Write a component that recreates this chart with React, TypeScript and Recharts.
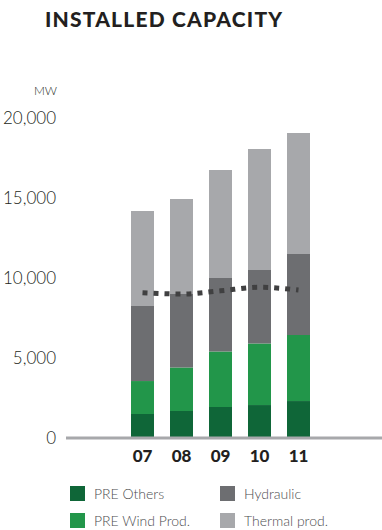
import {
  ComposedChart,
  Bar,
  Line,
  XAxis,
  YAxis,
} from "recharts";

const years = ["07", "08", "09", "10", "11"];
const preOthers = [1500, 1690, 1940, 2060, 2310];
const preWind = [2060, 2710, 3460, 3840, 4130];
const hydraulic = [4690, 4600, 4600, 4600, 5060];
const thermal = [5940, 5940, 6750, 7560, 7560];
const average = [9080, 9000, 9200, 9420, 9250];
const yTicks = [0, 5000, 10000, 15000, 20000];

const COLORS = {
  others: "#0f6638",
  wind: "#22964a",
  hydraulic: "#6d6e71",
  thermal: "#a7a8ab",
};

const data = years.map((year, i) => ({
  year,
  others: preOthers[i],
  wind: preWind[i],
  hydraulic: hydraulic[i],
  thermal: thermal[i],
  average: average[i],
}));

const legendItems = [
  { label: "PRE Others", color: COLORS.others },
  { label: "Hydraulic", color: COLORS.hydraulic },
  { label: "PRE Wind Prod.", color: COLORS.wind },
  { label: "Thermal prod.", color: COLORS.thermal },
];

const FONT = "Lato, 'Open Sans', sans-serif";

function formatTick(value: number) {
  return value.toLocaleString("en-US");
}

function LegendBlock() {
  return (
    <div
      style={{
        position: "absolute",
        left: 70,
        top: 486,
        display: "grid",
        gridTemplateColumns: "150px 150px",
        rowGap: 12,
        fontFamily: FONT,
        fontWeight: 300,
        fontSize: 14,
        color: "#4d4d4f",
      }}
    >
      {legendItems.map((item) => (
        <div key={item.label} style={{ display: "flex", alignItems: "center" }}>
          <span
            style={{
              width: 15,
              height: 15,
              backgroundColor: item.color,
              marginRight: 9,
              display: "inline-block",
            }}
          />
          <span style={{ lineHeight: "15px" }}>{item.label}</span>
        </div>
      ))}
    </div>
  );
}

export default function App() {
  return (
    <div
      style={{
        position: "absolute",
        left: 0,
        top: 0,
        width: 382,
        height: 530,
        background: "#fff",
        overflow: "hidden",
      }}
    >
      <div
        style={{
          position: "absolute",
          left: 45,
          top: 6,
          fontFamily: FONT,
          fontWeight: 900,
          fontSize: 21,
          letterSpacing: 1.2,
          color: "#231f20",
          whiteSpace: "nowrap",
        }}
      >
        INSTALLED CAPACITY
      </div>
      <div
        style={{
          position: "absolute",
          right: 382 - 57,
          top: 83,
          fontFamily: FONT,
          fontWeight: 300,
          fontSize: 12,
          color: "#231f20",
        }}
      >
        MW
      </div>
      <ComposedChart
        width={382}
        height={470}
        data={data}
        margin={{ top: 118, right: 0, left: 0, bottom: 0 }}
      >
        <XAxis
          dataKey="year"
          padding={{ left: 57, right: 64 }}
          axisLine={{ stroke: "#a7a8ab", strokeWidth: 3 }}
          tickLine={false}
          tickSize={0}
          tickMargin={12}
          height={32}
          tick={{
            fontFamily: FONT,
            fontWeight: 900,
            fontSize: 17,
            fill: "#231f20",
          }}
        />
        <YAxis
          domain={[0, 20000]}
          ticks={yTicks}
          tickFormatter={formatTick}
          axisLine={false}
          tickLine={false}
          tickSize={0}
          tickMargin={10}
          width={66}
          tick={{
            fontFamily: FONT,
            fontWeight: 300,
            fontSize: 17,
            fill: "#231f20",
          }}
        />
        <Bar dataKey="others" stackId="a" fill={COLORS.others} barSize={23} isAnimationActive={false} />
        <Bar dataKey="wind" stackId="a" fill={COLORS.wind} barSize={23} isAnimationActive={false} />
        <Bar dataKey="hydraulic" stackId="a" fill={COLORS.hydraulic} barSize={23} isAnimationActive={false} />
        <Bar dataKey="thermal" stackId="a" fill={COLORS.thermal} barSize={23} isAnimationActive={false} />
        <Line
          dataKey="average"
          type="monotone"
          stroke="#404041"
          strokeWidth={5}
          strokeDasharray="5 6"
          dot={false}
          activeDot={false}
          isAnimationActive={false}
        />
      </ComposedChart>
      <LegendBlock />
    </div>
  );
}
